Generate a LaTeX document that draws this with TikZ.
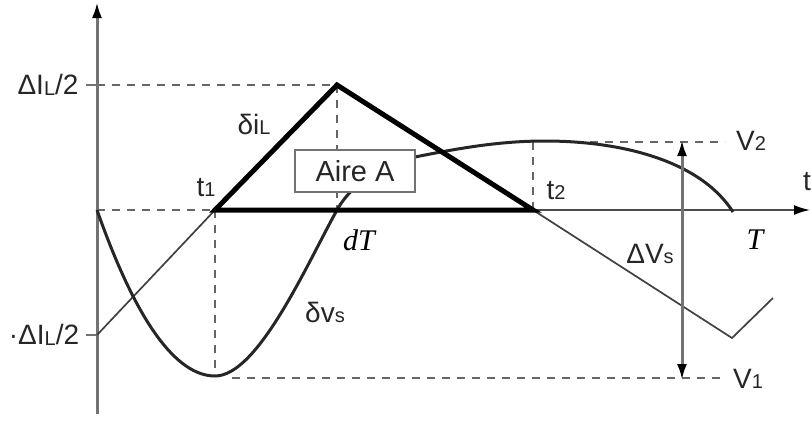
\documentclass[tikz,border=0pt]{standalone}
\usepackage{fontspec}
\setmainfont{Liberation Sans}
\newfontfamily\serifit{Liberation Serif}
\usetikzlibrary{arrows.meta}
\newcommand{\lbl}{\fontsize{28}{30}\selectfont}
\newcommand{\smsub}[1]{{\fontsize{20}{21}\selectfont #1}}
\begin{document}
\begin{tikzpicture}[x=1pt,y=-1pt,
  axisline/.style={draw=black!55,line width=3pt},
  guide/.style={draw=black!60,line width=1.6pt,dash pattern=on 8pt off 7pt},
  thinline/.style={draw=black!75,line width=1.7pt},
  thickline/.style={draw=black,line width=5pt,line join=miter},
  curve/.style={draw=black!85,line width=3pt},
  lab/.style={font=\lbl,text=black!85,inner sep=0pt},
  mlab/.style={font=\serifit\itshape\fontsize{30}{32}\selectfont,text=black,inner sep=0pt},
  tip/.style={-{Latex[length=16pt,width=10pt,color=black]}},
  tips/.style={{Latex[length=16pt,width=10pt,color=black]}-{Latex[length=16pt,width=10pt,color=black]}}
]
\useasboundingbox (0,0) rectangle (811,421);
% key coordinates
\coordinate (O) at (97,210);
\coordinate (Ytop) at (97,2);
\coordinate (Ybot) at (97,414);
\coordinate (Xend) at (810,210);
\coordinate (t1) at (215,210);
\coordinate (pk) at (337,85);
\coordinate (t2) at (533,210);
\coordinate (pkA) at (97,85);
\coordinate (nA) at (97,335);
\coordinate (min) at (215,376);
\coordinate (t2top) at (533,142);
\coordinate (V2end) at (725,142);
\coordinate (V2start) at (575,142);
\coordinate (V1start) at (232,378);
\coordinate (V1end) at (722,378);
\coordinate (pkbase) at (337,210);
\coordinate (vlow) at (732,338);
\coordinate (vend) at (773,298);
\coordinate (arT) at (682,140);
\coordinate (arB) at (682,380);
% guides
\draw[guide] (pkA) -- (pk);
\draw[guide] (pk) -- (pkbase);
\draw[guide] (t1) -- (min);
\draw[guide] (t2) -- (t2top);
\draw[guide] (V2start) -- (V2end);
\draw[guide] (V1start) -- (V1end);
\draw[guide] (O) -- (t1);
% axes
\draw[axisline,tip] (Ybot) -- (Ytop);
\draw[thinline,draw=black!70,line width=1.8pt,tip] (t1) -- (Xend);
\draw[axisline,line width=1.8pt] (86,85) -- (pkA);
\draw[axisline,line width=1.8pt] (86,335) -- (nA);
% thin current lines
\draw[thinline] (nA) -- (t1);
\draw[thinline] (t2) -- (vlow) -- (vend);
% voltage curve
\draw[curve] (O) .. controls (136,321) and (176,376) .. (min)
  .. controls (258,376) and (307,264) .. (pkbase)
  .. controls (352,183) and (385,162) .. (415,157)
  .. controls (460,148) and (500,141) .. (545,141)
  .. controls (620,141) and (700,160) .. (733,212);
% triangle
\draw[thickline] (t1) -- (pk) -- (t2) -- cycle;
% box
\node[draw=black!55,line width=2pt,fill=white,minimum width=120pt,minimum height=42pt,inner sep=0pt,font=\fontsize{29}{31}\selectfont,text=black!85] (aire) at (355,171) {Aire A};
% delta Vs arrow
\draw[axisline,tips] (arB) -- (arT);
% labels
\node[lab] (lA) at (48,85) {ΔI\raisebox{-1pt}{\smsub{L}}/2};
\node[lab] (lnA) at (44,335) {·ΔI\raisebox{-1pt}{\smsub{L}}/2};
\node[lab] (ldiL) at (254,124) {δi\smsub{L}};
\node[lab] (lt1) at (206,188) {t\smsub{1}};
\node[lab] (lt2) at (556,191) {t\smsub{2}};
\node[lab] (lV2) at (751,141) {V\smsub{2}};
\node[lab] (lV1) at (748,379) {V\smsub{1}};
\node[lab] (ldVs) at (650,254) {ΔV\smsub{s}};
\node[lab] (ldvs) at (325,312) {δv\smsub{s}};
\node[lab,anchor=west] (lt) at (803,182) {t};
\node[mlab] (ldT) at (359,240) {dT};
\node[mlab] (lT) at (755,240) {T};
\end{tikzpicture}
\end{document}
